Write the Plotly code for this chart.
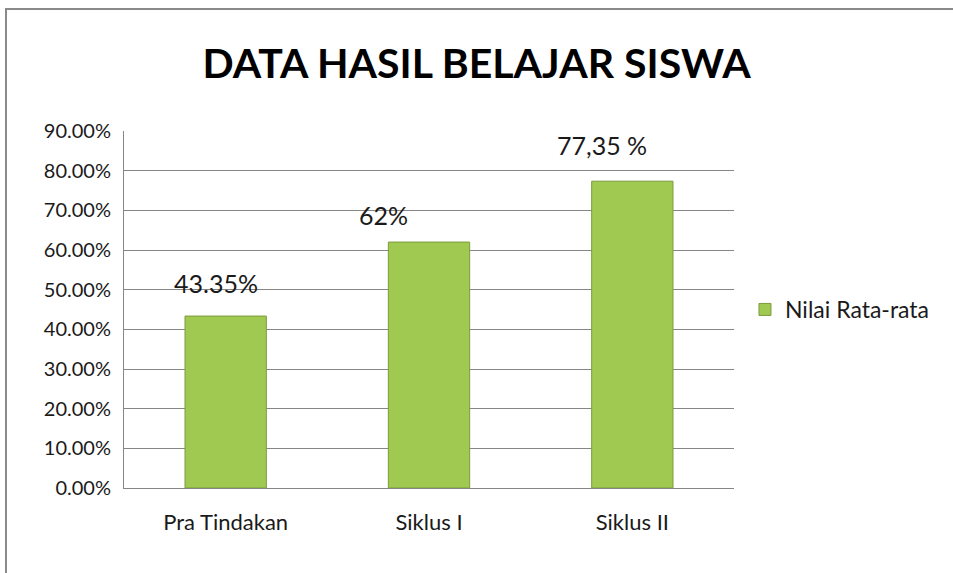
import plotly.graph_objects as go

categories = ["Pra Tindakan", "Siklus I", "Siklus II"]
values = [43.35, 62.0, 77.35]
value_labels = ["43.35%", "62%", "77,35 %"]
series_name = "Nilai Rata-rata"
title_text = "DATA HASIL BELAJAR SISWA"
tick_vals = [0, 10, 20, 30, 40, 50, 60, 70, 80, 90]
tick_text = ["0.00%", "10.00%", "20.00%", "30.00%", "40.00%", "50.00%",
             "60.00%", "70.00%", "80.00%", "90.00%"]

FONT = "Lato"

fig = go.Figure()
fig.add_trace(go.Bar(
    x=categories, y=values, name=series_name, width=0.4,
    marker=dict(color="#9FC951", line=dict(color="#7C9C3A", width=1)),
    showlegend=True,
))

# label offsets (style)
xshifts = [-10, -46, -30]
yshifts = [33, 27, 36]
for c, v, t, xs, ys in zip(categories, values, value_labels, xshifts, yshifts):
    fig.add_annotation(x=c, y=v, text=t, showarrow=False, xshift=xs, yshift=ys,
                       font=dict(family=FONT, size=25, color="#1a1a1a"))

fig.update_layout(
    width=953, height=573,
    margin=dict(l=124, r=219, t=131, b=85),
    paper_bgcolor="white", plot_bgcolor="white",
    title=dict(text="<b>" + title_text + "</b>", x=0.5, xanchor="center",
               y=1 - 64 / 573, yanchor="middle",
               font=dict(family=FONT, size=41, color="black")),
    legend=dict(x=1.018, y=0.5, xanchor="left", yanchor="middle",
                font=dict(family=FONT, size=23, color="#1a1a1a"),
                itemwidth=30, bgcolor="rgba(0,0,0,0)"),
    xaxis=dict(showline=True, linecolor="#868686", linewidth=1, mirror=False,
               tickfont=dict(family=FONT, size=22, color="#1a1a1a"),
               ticks="", ticklabelstandoff=15, showgrid=False),
    yaxis=dict(range=[0, 90], tickvals=tick_vals, ticktext=tick_text,
               showline=True, linecolor="#868686", linewidth=1,
               showgrid=True, gridcolor="#868686", gridwidth=1,
               ticks="", ticklabelstandoff=8, zeroline=False,
               tickfont=dict(family=FONT, size=20, color="#1a1a1a")),
    shapes=[dict(type="rect", xref="paper", yref="paper",
                 x0=-(124 - 6) / 610, x1=(980 - 124) / 610,
                 y0=-(620 - 488) / 357, y1=1 + (131.5 - 9.5) / 357,
                 line=dict(color="#8a8a8a", width=2), fillcolor="rgba(0,0,0,0)",
                 layer="below")],
)

fig.write_html("out.html", config={"displayModeBar": False},
               post_script="document.body.style.margin='0';")
